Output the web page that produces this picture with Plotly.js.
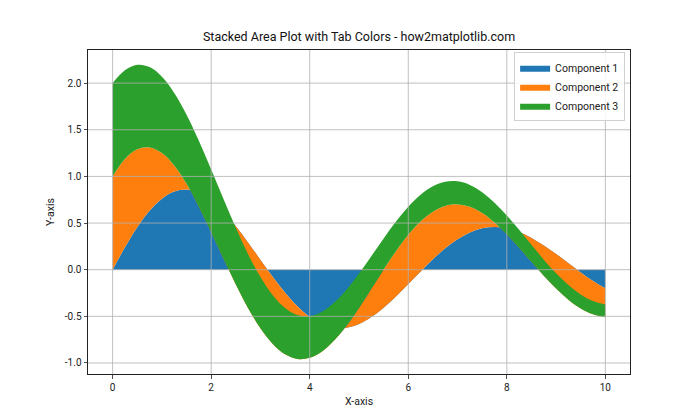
<!DOCTYPE html>
<html>
<head>
<meta charset="utf-8">
<script src="https://cdn.plot.ly/plotly-3.0.1.min.js"></script>
<style>html,body{margin:0;padding:0;background:#fff;}#chart{width:700px;height:420px;}</style>
</head>
<body>
<div id="chart"></div>
<script>
const xValues = [0,0.25,0.5,0.75,1,1.25,1.5,1.75,2,2.25,2.5,2.75,3,3.25,3.5,3.75,4,4.25,4.5,4.75,5,5.25,5.5,5.75,6,6.25,6.5,6.75,7,7.25,7.5,7.75,8,8.25,8.5,8.75,9,9.25,9.5,9.75,10];
const component1 = [0,0.241,0.456,0.632,0.761,0.838,0.859,0.826,0.744,0.621,0.466,0.290,0.105,-0.078,-0.247,-0.393,-0.507,-0.585,-0.623,-0.622,-0.582,-0.508,-0.407,-0.286,-0.153,-0.018,0.112,0.229,0.326,0.399,0.443,0.458,0.445,0.404,0.341,0.260,0.168,0.069,-0.029,-0.121,-0.200];
const component2 = [1,0.945,0.835,0.679,0.489,0.278,0.061,-0.150,-0.341,-0.502,-0.624,-0.702,-0.733,-0.718,-0.660,-0.564,-0.438,-0.292,-0.134,0.023,0.172,0.303,0.409,0.485,0.527,0.535,0.510,0.455,0.374,0.275,0.164,0.048,-0.065,-0.169,-0.257,-0.326,-0.370,-0.390,-0.386,-0.357,-0.309];
const component3 = [1,0.951,0.905,0.861,0.819,0.779,0.741,0.705,0.670,0.638,0.607,0.577,0.549,0.522,0.497,0.472,0.449,0.427,0.407,0.387,0.368,0.350,0.333,0.317,0.301,0.287,0.273,0.259,0.247,0.235,0.223,0.212,0.202,0.192,0.183,0.174,0.165,0.157,0.150,0.142,0.135];
const seriesNames = ["Component 1","Component 2","Component 3"];
const seriesColors = ["#1f77b4","#ff7f0e","#2ca02c"];
const xTicks = [0,2,4,6,8,10];
const yTicks = [-1.0,-0.5,0.0,0.5,1.0,1.5,2.0];
const yTickLabels = ["-1.0","-0.5","0.0","0.5","1.0","1.5","2.0"];

const FONT = "Roboto, 'DejaVu Sans', sans-serif";
const series = [component1, component2, component3];
const traces = series.map((ys, i) => ({
  type: "scatter", mode: "lines", x: xValues, y: ys,
  name: seriesNames[i], stackgroup: "one",
  line: {width: 0, color: seriesColors[i], shape: "spline", smoothing: 1},
  fillcolor: seriesColors[i], hoverinfo: "skip"
}));

const gridColor = "#b0b0b0";
const shapes = [];
xTicks.forEach(v => shapes.push({type:"line", xref:"x", yref:"paper", x0:v, x1:v, y0:0, y1:1, layer:"above", line:{color:gridColor, width:0.8}}));
yTicks.forEach(v => shapes.push({type:"line", xref:"paper", yref:"y", x0:0, x1:1, y0:v, y1:v, layer:"above", line:{color:gridColor, width:0.8}}));

const layout = {
  width: 700, height: 420,
  margin: {l: 87.5, r: 70, t: 50.4, b: 46.2},
  paper_bgcolor: "#fff", plot_bgcolor: "#fff",
  font: {family: FONT, size: 10, color: "#222"},
  title: {text: "Stacked Area Plot with Tab Colors - how2matplotlib.com", font: {family: FONT, size: 12.5, color: "#111"}, x: 0.5, xanchor: "center", xref: "paper", y: 1 - 37/420, yanchor: "middle"},
  xaxis: {range: [-0.5, 10.5], tickvals: xTicks, ticktext: xTicks.map(String), showgrid: false, zeroline: false,
    showline: true, mirror: true, linecolor: "#222", linewidth: 1, ticks: "outside", ticklen: 3.5, tickwidth: 0.8, tickcolor: "#222",
    title: {text: "X-axis", font: {family: FONT, size: 10.5, color: "#222"}, standoff: 6}, fixedrange: true},
  yaxis: {range: [-1.118, 2.355], tickvals: yTicks, ticktext: yTickLabels, showgrid: false, zeroline: false,
    showline: true, mirror: true, linecolor: "#222", linewidth: 1, ticks: "outside", ticklen: 3.5, tickwidth: 0.8, tickcolor: "#222",
    title: {text: "Y-axis", font: {family: FONT, size: 10.5, color: "#222"}, standoff: 8}, fixedrange: true},
  legend: {x: 0.991, xanchor: "right", y: 0.993, yanchor: "top", bgcolor: "rgba(255,255,255,0.85)", bordercolor: "#d0d0d0", borderwidth: 1,
    font: {family: FONT, size: 10.5, color: "#222"}, traceorder: "normal", itemwidth: 30, tracegroupgap: 0},
  shapes: shapes,
  showlegend: true
};
Plotly.newPlot("chart", traces, layout, {staticPlot: true, displayModeBar: false});
</script>
</body>
</html>
